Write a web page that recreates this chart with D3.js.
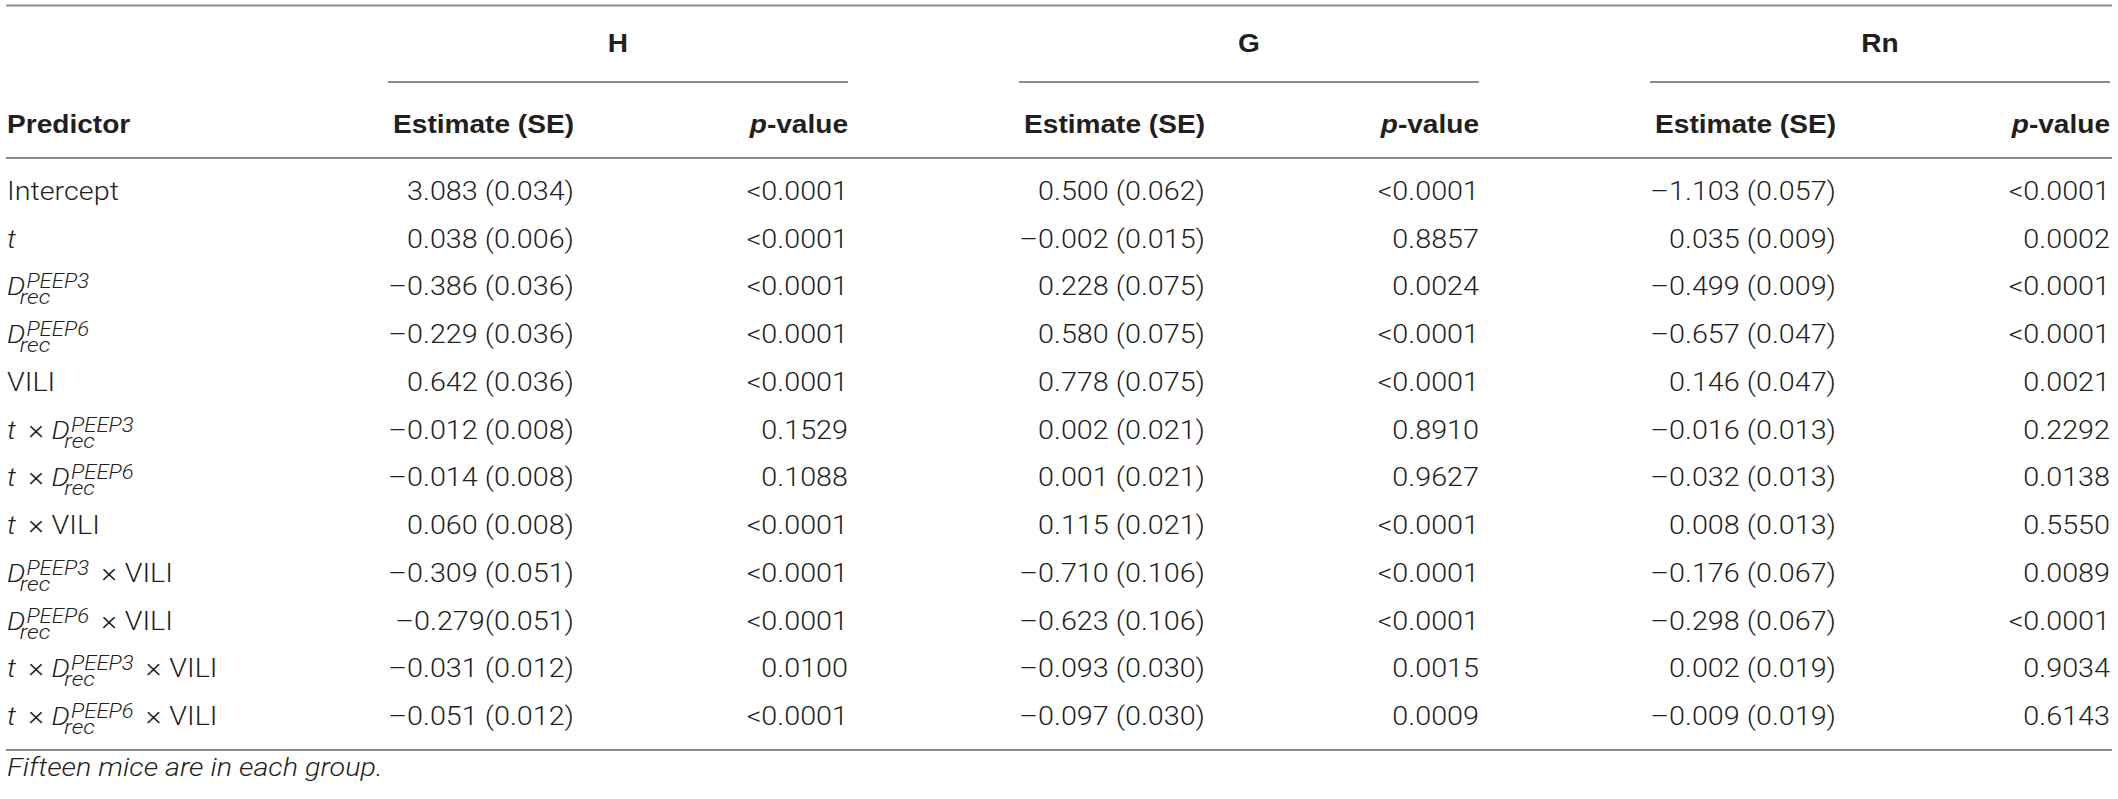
<!DOCTYPE html>
<html>
<head>
<meta charset="utf-8">
<script src="https://cdn.jsdelivr.net/npm/d3@7"></script>
<style>
  html, body { margin: 0; padding: 0; background: #fff; }
  svg { display: block; }
  .body-txt { font-family: Roboto, "Liberation Sans", sans-serif; font-weight: 300; fill: #231f20; }
  .head-txt { font-family: "Liberation Sans", Arial, sans-serif; font-weight: bold; fill: #231f20; }
  .rule { stroke: #8c8c8c; stroke-width: 2; }
</style>
</head>
<body>
<div id="table_container"></div>
<script>
// -- DATA -- //
const groups = ["H", "G", "Rn"];
const subHeads = ["Estimate (SE)", "p-value"];

// predictor labels as token lists: r = regular, i = italic, x = times sign, s = sup/sub stack
const predictors = [
  [["r", "Intercept"]],
  [["i", "t"]],
  [["i", "D"], ["s", "PEEP3", "rec"]],
  [["i", "D"], ["s", "PEEP6", "rec"]],
  [["r", "VILI"]],
  [["i", "t"], ["x"], ["i", "D"], ["s", "PEEP3", "rec"]],
  [["i", "t"], ["x"], ["i", "D"], ["s", "PEEP6", "rec"]],
  [["i", "t"], ["x"], ["r", "VILI"]],
  [["i", "D"], ["s", "PEEP3", "rec"], ["x"], ["r", "VILI"]],
  [["i", "D"], ["s", "PEEP6", "rec"], ["x"], ["r", "VILI"]],
  [["i", "t"], ["x"], ["i", "D"], ["s", "PEEP3", "rec"], ["x"], ["r", "VILI"]],
  [["i", "t"], ["x"], ["i", "D"], ["s", "PEEP6", "rec"], ["x"], ["r", "VILI"]],
];

const hEst = ["3.083 (0.034)", "0.038 (0.006)", "–0.386 (0.036)", "–0.229 (0.036)", "0.642 (0.036)", "–0.012 (0.008)",
  "–0.014 (0.008)", "0.060 (0.008)", "–0.309 (0.051)", "–0.279(0.051)", "–0.031 (0.012)", "–0.051 (0.012)"];
const hP = ["<0.0001", "<0.0001", "<0.0001", "<0.0001", "<0.0001", "0.1529",
  "0.1088", "<0.0001", "<0.0001", "<0.0001", "0.0100", "<0.0001"];

const gEst = ["0.500 (0.062)", "–0.002 (0.015)", "0.228 (0.075)", "0.580 (0.075)", "0.778 (0.075)", "0.002 (0.021)",
  "0.001 (0.021)", "0.115 (0.021)", "–0.710 (0.106)", "–0.623 (0.106)", "–0.093 (0.030)", "–0.097 (0.030)"];
const gP = ["<0.0001", "0.8857", "0.0024", "<0.0001", "<0.0001", "0.8910",
  "0.9627", "<0.0001", "<0.0001", "<0.0001", "0.0015", "0.0009"];

const rnEst = ["–1.103 (0.057)", "0.035 (0.009)", "–0.499 (0.009)", "–0.657 (0.047)", "0.146 (0.047)", "–0.016 (0.013)",
  "–0.032 (0.013)", "0.008 (0.013)", "–0.176 (0.067)", "–0.298 (0.067)", "0.002 (0.019)", "–0.009 (0.019)"];
const rnP = ["<0.0001", "0.0002", "<0.0001", "<0.0001", "0.0021", "0.2292",
  "0.0138", "0.5550", "0.0089", "<0.0001", "0.9034", "0.6143"];

const footnote = "Fifteen mice are in each group.";

// -- LAYOUT -- //
const width = 2118;
const height = 799;
const fontSize = 26;

const svg = d3.select("#table_container").append("svg")
  .attr("width", width)
  .attr("height", height);

// rows: baselines of the body rows
const yRow = d3.scalePoint().domain(d3.range(predictors.length)).range([200, 725]);
// group left edges (each group is 460 px wide)
const xGroup = d3.scaleLinear().domain([0, groups.length - 1]).range([388, 1650]);
const groupWidth = 460;
const estOffset = 186;

const leftX = 7;
const ruleX = [6, 2112];

// measure a string so we can stretch the fonts a bit to match the reference glyph widths
function measure(cls, str) {
  const t = svg.append("text").attr("class", cls).style("font-size", fontSize + "px").text(str);
  const w = t.node().getComputedTextLength();
  t.remove();
  return w;
}
const sxBody = 167 / measure("body-txt", "3.083 (0.034)");
const sxHead = 181 / measure("head-txt", "Estimate (SE)");

function txt(cls, x, y, str, anchor, sx) {
  return svg.append("text")
    .attr("class", cls)
    .attr("transform", `translate(${x},${y}) scale(${sx},1)`)
    .attr("text-anchor", anchor || "start")
    .style("font-size", fontSize + "px")
    .text(str);
}

// -- RULES -- //
[5.5, 158, 750].forEach((y) => {
  svg.append("line").attr("class", "rule")
    .attr("x1", ruleX[0]).attr("x2", ruleX[1])
    .attr("y1", y).attr("y2", y);
});

// -- HEADERS -- //
groups.forEach((name, i) => {
  const gx = xGroup(i);
  txt("head-txt", gx + groupWidth / 2, 52, name, "middle", sxHead);

  svg.append("line").attr("class", "rule")
    .attr("x1", gx).attr("x2", gx + groupWidth)
    .attr("y1", 82).attr("y2", 82);

  txt("head-txt", gx + estOffset, 133, subHeads[0], "end", sxHead);

  const p = txt("head-txt", gx + groupWidth, 133, "", "end", sxHead);
  p.append("tspan").style("font-style", "italic").text("p");
  p.append("tspan").text("-value");
});

txt("head-txt", leftX, 133, "Predictor", "start", sxHead);

// -- BODY -- //
const columns = [[hEst, hP], [gEst, gP], [rnEst, rnP]];
columns.forEach((pair, i) => {
  const gx = xGroup(i);
  pair[0].forEach((v, r) => txt("body-txt", gx + estOffset, yRow(r), v, "end", sxBody));
  pair[1].forEach((v, r) => txt("body-txt", gx + groupWidth, yRow(r), v, "end", sxBody));
});

// predictor labels with stacked super/subscripts
function drawLabel(tokens, y) {
  const g = svg.append("g")
    .attr("class", "body-txt")
    .attr("transform", `translate(${leftX},${y}) scale(${sxBody},1)`);
  let cursor = 0;
  tokens.forEach((tok) => {
    if (tok[0] === "s") {
      const sup = g.append("text").attr("x", cursor + 1).attr("y", -7)
        .style("font-size", "20px").style("font-style", "italic").text(tok[1]);
      const sub = g.append("text").attr("x", cursor - 5).attr("y", 9)
        .style("font-size", "21px").style("font-style", "italic").text(tok[2]);
      cursor += Math.max(
        sup.node().getComputedTextLength() + 1,
        sub.node().getComputedTextLength() - 5
      );
    } else if (tok[0] === "x") {
      cursor += 11;
      const t = g.append("text").attr("x", cursor).attr("y", 0)
        .style("font-size", "27px").text("×");
      cursor += t.node().getComputedTextLength() + 7;
    } else {
      const t = g.append("text").attr("x", cursor).attr("y", 0)
        .style("font-size", fontSize + "px")
        .style("font-style", tok[0] === "i" ? "italic" : "normal")
        .text(tok[1]);
      cursor += t.node().getComputedTextLength();
    }
  });
}
predictors.forEach((tokens, r) => drawLabel(tokens, yRow(r)));

// -- FOOTNOTE -- //
txt("body-txt", leftX, 776, footnote, "start", sxBody).style("font-style", "italic");
</script>
</body>
</html>
